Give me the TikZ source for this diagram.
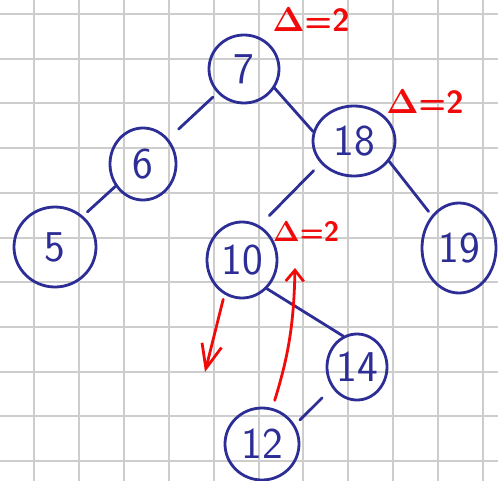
\documentclass[tikz,border=0pt]{standalone}
\usetikzlibrary{shapes.geometric,arrows.meta}
\definecolor{inkblue}{RGB}{45,45,150}
\definecolor{inkred}{RGB}{240,10,10}
\definecolor{gridgray}{RGB}{205,205,205}
\tikzset{
  keynode/.style={ellipse, draw=inkblue, line width=1.4pt, text=inkblue, inner sep=0pt,
    font=\sffamily\fontsize{22}{24}\selectfont},
  treeedge/.style={draw=inkblue, line width=1.4pt, line cap=round},
  redarrow/.style={draw=inkred, line width=1.4pt, line cap=round},
  balance/.style={text=inkred, font=\sffamily\bfseries\fontsize{16}{18}\selectfont}
}
\begin{document}
\begin{tikzpicture}[x=0.5pt, y=-0.5pt]
  \useasboundingbox (0,0) rectangle (498,481);
  % squared paper
  \foreach \k in {0,...,10} {
    \draw[gridgray, line width=1pt] ({34+44.9*\k},0) -- ({34+44.9*\k},481);
    \draw[gridgray, line width=1pt] (0,{14+44.7*\k}) -- (498,{14+44.7*\k});
  }
  % keys
  \node[keynode, minimum width=35pt, minimum height=34pt] (n7) at (244,69) {7};
  \node[keynode, minimum width=41pt, minimum height=35pt] (n18) at (354,141) {18};
  \node[keynode, minimum width=33pt, minimum height=36pt] (n6) at (143,164) {6};
  \node[keynode, minimum width=41pt, minimum height=40pt] (n5) at (55,247) {5};
  \node[keynode, minimum width=35pt, minimum height=38pt] (n10) at (242,260) {10};
  \node[keynode, minimum width=37pt, minimum height=45pt] (n19) at (459,248) {19};
  \node[keynode, minimum width=30pt, minimum height=33pt] (n14) at (357,367) {14};
  \node[keynode, minimum width=37pt, minimum height=36pt] (n12) at (262,444) {12};
  % edges
  \draw[treeedge, shorten <=3pt, shorten >=7pt] (n7.222) -- (n6.45);
  \draw[treeedge] (n7.-32) -- (n18.167);
  \draw[treeedge, shorten >=3pt] (n6.219) -- (n5.48);
  \draw[treeedge, shorten <=5pt, shorten >=7pt] (n18.214) -- (n10.63);
  \draw[treeedge, shorten >=2.5pt] (n18.-30) -- (n19.130);
  \draw[treeedge] (n10.-49) -- (n14.114);
  \draw[treeedge, shorten <=7pt, shorten >=3.5pt] (n14.220) -- (n12.30);
  % balance factors
  \node[balance] (b7) at (311,20) {$\mathbf{\Delta}$=2};
  \node[balance] (b18) at (425,102) {$\mathbf{\Delta}$=2};
  \node[balance, font=\sffamily\bfseries\fontsize{14}{16}\selectfont] (b10) at (306,231) {$\mathbf{\Delta}$=2};
  % rotation hints
  \coordinate (downtip) at (205,372);
  \coordinate (uptip) at (295,268);
  \draw[redarrow, shorten <=2.5pt, -{Straight Barb[length=12pt,width=10pt]}] (n10.243) -- (downtip);
  \draw[redarrow, shorten <=4pt, -{Straight Barb[length=5.5pt,width=9pt]}] (n12.74) to[bend right=8] (uptip);
\end{tikzpicture}
\end{document}
